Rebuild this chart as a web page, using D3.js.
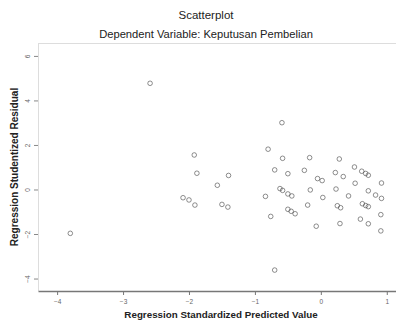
<!DOCTYPE html>
<html>
<head>
<meta charset="utf-8">
<script src="https://cdn.jsdelivr.net/npm/d3@7"></script>
<style>
  body { margin: 0; background: #fff; }
  svg { display: block; font-family: "Liberation Sans", Arial, sans-serif; }
</style>
</head>
<body>
<div class="chart"></div>
<script>
// predicted values (standardized) and studentized residuals
const predicted = [
  -2.59, -1.92, -1.88, -1.40, -1.57, -2.09, -2.00, -1.91, -1.50, -1.41,
  -3.80, -0.59, -0.80, -0.58, -0.17, 0.28, -0.70, -0.50, -0.25, 0.22,
  0.34, 0.51, 0.62, 0.68, 0.72, -0.05, 0.02, 0.52, 0.92, -0.62,
  -0.58, -0.50, -0.44, -0.16, 0.23, 0.72, 0.83, 0.92, -0.84, 0.03,
  0.42, -0.20, 0.25, 0.30, 0.63, 0.68, 0.72, -0.50, -0.45, -0.39,
  -0.76, 0.91, 0.60, 0.72, -0.07, 0.29, 0.91, -0.70
];
const residual = [
  4.77, 1.55, 0.73, 0.63, 0.19, -0.37, -0.47, -0.70, -0.67, -0.79,
  -1.97, 3.00, 1.81, 1.40, 1.43, 1.37, 0.88, 0.71, 0.86, 0.76,
  0.58, 1.01, 0.82, 0.72, 0.64, 0.49, 0.40, 0.28, 0.29, 0.04,
  -0.04, -0.20, -0.29, -0.02, 0.02, -0.06, -0.25, -0.40, -0.31, -0.36,
  -0.29, -0.70, -0.73, -0.82, -0.64, -0.72, -0.77, -0.89, -0.98, -1.09,
  -1.21, -1.13, -1.33, -1.54, -1.65, -1.53, -1.86, -3.62
];
const xTicks = [-4, -3, -2, -1, 0, 1];
const yTicks = [-4, -2, 0, 2, 4, 6];

const title = "Scatterplot";
const subtitle = "Dependent Variable: Keputusan Pembelian";
const xTitle = "Regression Standardized Predicted Value";
const yTitle = "Regression Studentized Residual";

const W = 396, H = 322;
const plot = {left: 38, right: 396, top: 43, bottom: 291};

const svg = d3.select(".chart").append("svg")
  .attr("width", W)
  .attr("height", H);

const x = d3.scaleLinear().domain([-4.29, 1.14]).range([plot.left, plot.right]);
const y = d3.scaleLinear().domain([-4.56, 6.58]).range([plot.bottom, plot.top]);

// titles
svg.append("text")
  .attr("x", 206).attr("y", 19)
  .attr("text-anchor", "middle")
  .attr("font-size", 11.5)
  .attr("fill", "#222")
  .text(title);
svg.append("text")
  .attr("x", 206).attr("y", 38)
  .attr("text-anchor", "middle")
  .attr("font-size", 11.2)
  .attr("fill", "#222")
  .text(subtitle);

// frame (top + left light lines)
svg.append("line")
  .attr("x1", plot.left).attr("x2", plot.right)
  .attr("y1", plot.top + 0.5).attr("y2", plot.top + 0.5)
  .attr("stroke", "#ddd");
svg.append("line")
  .attr("x1", plot.left + 0.5).attr("x2", plot.left + 0.5)
  .attr("y1", plot.top).attr("y2", plot.bottom)
  .attr("stroke", "#ddd");

// x axis
const xAxis = svg.append("g")
  .attr("transform", "translate(0," + plot.bottom + ")")
  .call(d3.axisBottom(x).tickValues(xTicks).tickSize(4).tickSizeOuter(0)
    .tickFormat(d3.format("d")));
xAxis.select(".domain").attr("stroke", "#777").attr("stroke-width", 1.3);
xAxis.selectAll(".tick line").attr("stroke", "#777");
xAxis.selectAll(".tick text")
  .attr("font-size", 6.5)
  .attr("fill", "#666")
  .attr("dy", "0.9em");

// y axis
const yAxis = svg.append("g")
  .attr("transform", "translate(" + plot.left + ",0)")
  .call(d3.axisLeft(y).tickValues(yTicks).tickSize(4).tickSizeOuter(0)
    .tickFormat(d3.format("d")));
yAxis.select(".domain").remove();
yAxis.selectAll(".tick line").attr("stroke", "#888");
yAxis.selectAll(".tick text")
  .attr("font-size", 6.5)
  .attr("fill", "#666")
  .attr("x", null).attr("dy", null)
  .attr("text-anchor", "middle")
  .attr("transform", "translate(-8,0) rotate(-90)");

// axis titles
svg.append("text")
  .attr("x", 221).attr("y", 318)
  .attr("text-anchor", "middle")
  .attr("font-size", 9.8)
  .attr("font-weight", "bold")
  .attr("fill", "#222")
  .text(xTitle);
svg.append("text")
  .attr("transform", "translate(18,167) rotate(-90)")
  .attr("text-anchor", "middle")
  .attr("font-size", 10)
  .attr("font-weight", "bold")
  .attr("fill", "#222")
  .text(yTitle);

// points
svg.append("g")
  .selectAll("circle")
  .data(predicted.map((p, i) => [p, residual[i]]))
  .join("circle")
  .attr("cx", d => x(d[0]))
  .attr("cy", d => y(d[1]))
  .attr("r", 2.3)
  .attr("fill", "none")
  .attr("stroke", "#444")
  .attr("stroke-opacity", 0.6)
  .attr("stroke-width", 1);
</script>
</body>
</html>
